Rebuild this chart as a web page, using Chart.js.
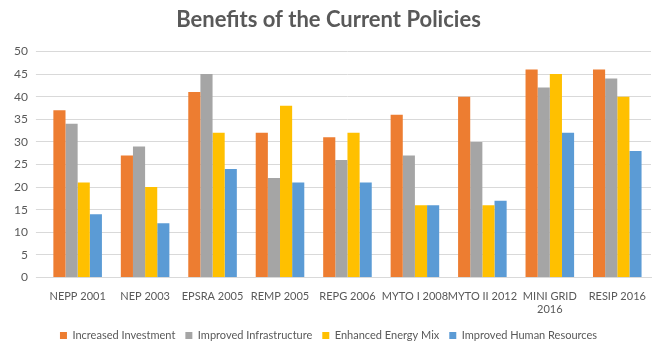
<!DOCTYPE html>
<html>
<head>
<meta charset="utf-8">
<script src="https://cdn.jsdelivr.net/npm/chart.js@4"></script>
<style>
  html, body { margin: 0; padding: 0; background: #fff; }
  #wrap { width: 657px; height: 342px; }
</style>
</head>
<body>
<div id="wrap"><canvas id="chart"></canvas></div>
<script>
// categories and series
const categories = ['NEPP 2001', 'NEP 2003', 'EPSRA 2005', 'REMP 2005', 'REPG 2006',
  'MYTO I 2008', 'MYTO II 2012', ['MINI GRID', '2016'], 'RESIP 2016']
const increasedInvestment   = [37, 27, 41, 32, 31, 36, 40, 46, 46]
const improvedInfrastructure = [34, 29, 45, 22, 26, 27, 30, 42, 44]
const enhancedEnergyMix     = [21, 20, 32, 38, 32, 16, 16, 45, 40]
const improvedHumanRes      = [14, 12, 24, 21, 21, 16, 17, 32, 28]

const TEXT_COLOR = '#595959'
const GRID_COLOR = '#d9d9d9'
const FONT = "Lato, 'Open Sans', sans-serif"

const mk = (label, data, color) => ({
  label, data, backgroundColor: color, borderWidth: 0,
  barPercentage: 1.0, categoryPercentage: 0.72,
})

new Chart(document.getElementById('chart').getContext('2d'), {
  type: 'bar',
  data: {
    labels: categories,
    datasets: [
      mk('Increased Investment', increasedInvestment, '#ED7D31'),
      mk('Improved Infrastructure', improvedInfrastructure, '#A5A5A5'),
      mk('Enhanced Energy Mix', enhancedEnergyMix, '#FFC000'),
      mk('Improved Human Resources', improvedHumanRes, '#5B9BD5'),
    ],
  },
  options: {
    responsive: true,
    maintainAspectRatio: false,
    animation: false,
    layout: { padding: { left: 6, right: 6, top: 0, bottom: -9 } },
    plugins: {
      title: {
        display: true,
        text: 'Benefits of the Current Policies',
        color: TEXT_COLOR,
        font: { family: FONT, size: 22, weight: 'bold' },
        padding: { top: 7, bottom: 18 },
      },
      legend: {
        position: 'bottom',
        labels: {
          color: TEXT_COLOR,
          font: { family: FONT, size: 11 },
          boxWidth: 7, boxHeight: 7,
          padding: 10,
        },
      },
      tooltip: { enabled: false },
    },
    scales: {
      x: {
        grid: { display: false },
        border: { color: GRID_COLOR },
        ticks: { color: TEXT_COLOR, font: { family: FONT, size: 11 }, maxRotation: 0, autoSkip: false, padding: 4 },
      },
      y: {
        min: 0, max: 50,
        grid: { color: GRID_COLOR },
        border: { display: false },
        ticks: { stepSize: 5, autoSkip: false, color: TEXT_COLOR, font: { family: FONT, size: 12 }, padding: 8 },
      },
    },
  },
})
</script>
</body>
</html>
